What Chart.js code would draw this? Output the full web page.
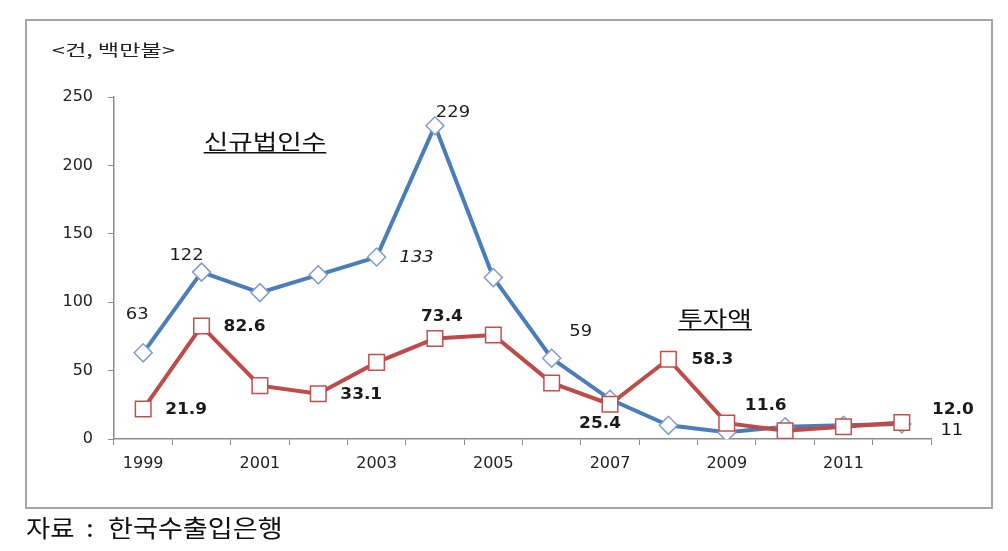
<!DOCTYPE html>
<html><head><meta charset="utf-8">
<script src="https://cdn.jsdelivr.net/npm/chart.js@4/dist/chart.umd.min.js"></script>
<style>html,body{margin:0;padding:0;background:#fff;}canvas{display:block;}</style>
</head><body>
<canvas id="c" width="1008" height="551"></canvas>
<script>
const years = ['1999','2000','2001','2002','2003','2004','2005','2006','2007','2008','2009','2010','2011','2012'];
const newCorps = [63,122,107,120,133,229,118,59,29,10,5,9,10,11];
const investment = [21.9,82.6,39,33.1,56,73.4,76,41,25.4,58.3,11.6,6,9,12.0];
const newCorpsLabels = ['63','122','','','133','229','','59','','','','','','11'];
const investLabels = ['21.9','82.6','','33.1','','73.4','','','25.4','58.3','11.6','','','12.0'];
const yMax = 250, yStep = 50;
const unitText = '<건, 백만불>';
const seriesNames = ['신규법인수','투자액'];
const sourceParts = ['자료', ':', '한국수출입은행'];

const BLUE = '#4a7ebb', RED = '#be4b48';

// label offsets (px) relative to the point
const blueOff = {0:[-6,-38],1:[-15,-16],4:[40,1],5:[18,-13],7:[29,-26],13:[50,7]};
const redOff = {0:[43,1],1:[43,1],3:[43,1],5:[7,-22],8:[-10,20],9:[44,1],10:[39,-17],13:[51,-13]};

function stretchText(c, t, x, y, sx, align){
  c.save();
  c.translate(x, y);
  c.scale(sx, 1);
  c.textAlign = align || 'center';
  c.fillText(t, 0, 0);
  c.restore();
}

const annot = {
  id:'annot',
  beforeDraw(chart){
    const c = chart.ctx;
    c.save();
    c.fillStyle='#fff'; c.fillRect(0,0,chart.width,chart.height);
    c.strokeStyle='#a6a6a6'; c.lineWidth=2;
    c.strokeRect(26,20,966,488);
    c.restore();
  },
  afterDatasetsDraw(chart){
    const c = chart.ctx;
    c.save();
    c.textBaseline='middle'; c.fillStyle='#1a1a1a';
    const mBlue = chart.getDatasetMeta(1), mRed = chart.getDatasetMeta(0);
    newCorpsLabels.forEach((t,i)=>{
      if(!t) return;
      const p = mBlue.data[i], o = blueOff[i];
      c.font = (i===4?'italic ':'') + '16px "DejaVu Sans"';
      stretchText(c, t, p.x+o[0], p.y+o[1], 1.12);
    });
    investLabels.forEach((t,i)=>{
      if(!t) return;
      const p = mRed.data[i], o = redOff[i];
      c.font = 'bold 16px "DejaVu Sans"';
      stretchText(c, t, p.x+o[0], p.y+o[1], 1.06);
    });
    // series names (underlined)
    c.font = '21px "Noto Sans CJK KR"';
    c.fillStyle='#111';
    const names = [[seriesNames[0],265,141],[seriesNames[1],715,318]];
    names.forEach(([t,x,y])=>{
      const sx = 1.27;
      stretchText(c, t, x, y, sx);
      const w = c.measureText(t).width * sx;
      c.fillRect(x-w/2, y+11, w, 1.5);
    });
    c.font = '16px "Noto Sans CJK KR"';
    c.fillStyle='#222';
    stretchText(c, unitText, 52, 50, 1.45, 'left');
    c.font = '24px "Noto Sans CJK KR"';
    c.fillStyle='#111';
    stretchText(c, sourceParts[0], 26, 528, 1.1, 'left');
    stretchText(c, sourceParts[1], 90, 528, 1.1, 'center');
    stretchText(c, sourceParts[2], 108, 528, 1.13, 'left');
    c.restore();
  }
};

new Chart(document.getElementById('c'), {
  type:'line',
  data:{
    labels: years,
    datasets:[
      {label:seriesNames[1], data:investment, borderColor:RED, borderWidth:4,
       pointStyle:'rect', pointRadius:11, pointBackgroundColor:'#fff', pointBorderColor:'#c0504d', pointBorderWidth:1.5, order:0, tension:0},
      {label:seriesNames[0], data:newCorps, borderColor:BLUE, borderWidth:4,
       pointStyle:'rectRot', pointRadius:9, pointBackgroundColor:'#fff', pointBorderColor:'#7e9ccc', pointBorderWidth:1.5, order:1, tension:0}
    ]
  },
  options:{
    responsive:false, animation:false, devicePixelRatio:1,
    layout:{padding:{top:97,right:77,bottom:72,left:0}},
    plugins:{legend:{display:false}, tooltip:{enabled:false}},
    scales:{
      x:{
        offset:true,
        grid:{offset:true, drawOnChartArea:false, drawTicks:true, tickLength:6, color:'#8c8c8c'},
        border:{color:'#8c8c8c', width:1.5},
        ticks:{autoSkip:false, maxRotation:0, padding:9, color:'#222',
          font:{family:'DejaVu Sans', size:16},
          callback:function(v,i){ const y = years[i]; return (parseInt(y)%2===1)? y : ''; }},
        afterFit(s){ s.height = 40; }
      },
      y:{
        min:0, max:yMax,
        grid:{drawOnChartArea:false, drawTicks:true, tickLength:6, color:'#8c8c8c'},
        border:{color:'#8c8c8c', width:1.5},
        ticks:{stepSize:yStep, padding:15, color:'#222', font:{family:'DejaVu Sans', size:16}},
        afterFit(s){ s.width = 114; }
      }
    }
  },
  plugins:[annot]
});
</script>
</body></html>
